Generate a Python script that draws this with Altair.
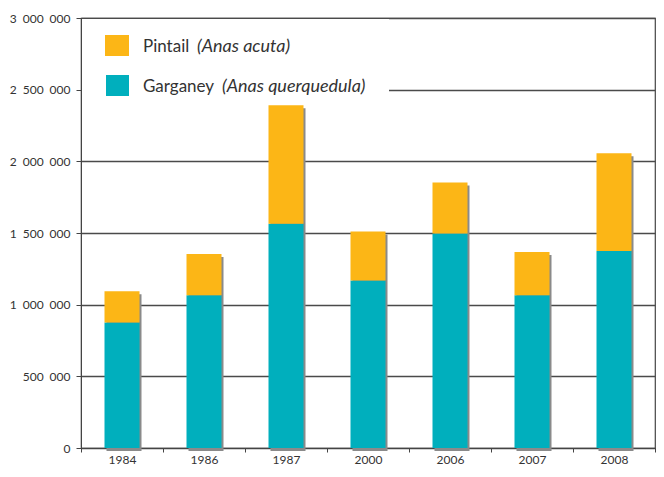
import altair as alt
import pandas as pd

years = ["1984", "1986", "1987", "2000", "2006", "2007", "2008"]
garganey = [875000, 1066000, 1565000, 1169000, 1497000, 1066000, 1374000]
pintail_total = [1093000, 1353000, 2392000, 1510000, 1852000, 1367000, 2057000]
pintail = [t - g for t, g in zip(pintail_total, garganey)]
y_ticks = [0, 500000, 1000000, 1500000, 2000000, 2500000, 3000000]

ORANGE = "#FCB616"
TEAL = "#00AFBD"
FONT = "Lato"
SEP = "\u2002"

rows = []
for y, g, p in zip(years, garganey, pintail):
    rows.append({"year": y, "species": "Garganey", "value": g, "ord": 0})
    rows.append({"year": y, "species": "Pintail", "value": p, "ord": 1})
df = pd.DataFrame(rows)
tot = pd.DataFrame({"year": years, "total": [g + p for g, p in zip(garganey, pintail)]})

xenc = alt.X("year:N", sort=years, title=None,
             scale=alt.Scale(paddingInner=0, paddingOuter=0),
             axis=alt.Axis(labelAngle=0, tickBand="extent", tickSize=4,
                           labelFont=FONT, labelFontSize=12, labelColor="#333",
                           domainColor="#444", tickColor="#444", labelPadding=2))
yscale = alt.Scale(domain=[0, 3000000], nice=False)

shadow = alt.Chart(tot).mark_bar(size=35, color="#8a8a8a", xOffset=2, yOffset=3, y2Offset=0).encode(
    x=xenc,
    y=alt.Y("total:Q", scale=yscale, title=None,
            axis=alt.Axis(values=y_ticks, tickSize=5, labelFont=FONT, labelFontSize=12,
                          labelColor="#333", labelPadding=6,
                          labelExpr="replace(format(datum.value, ','), /,/g, '" + SEP + "')",
                          grid=True, gridColor="#4a4a4a", gridWidth=1.4,
                          domainColor="#444", tickColor="#444")),
)

bars = alt.Chart(df).mark_bar(size=35).encode(
    x=xenc,
    y=alt.Y("value:Q", stack="zero", scale=yscale),
    color=alt.Color("species:N", scale=alt.Scale(domain=["Pintail", "Garganey"], range=[ORANGE, TEAL]),
                    legend=None),
    order=alt.Order("ord:Q"),
)

anchor = pd.DataFrame({"k": [0]})
box = alt.Chart(anchor).mark_rect(color="white").encode(
    x=alt.value(1), x2=alt.value(308), y=alt.value(1), y2=alt.value(80))

sq1 = alt.Chart(anchor).mark_rect(color=ORANGE).encode(
    x=alt.value(24), x2=alt.value(48), y=alt.value(17), y2=alt.value(38))
sq2 = alt.Chart(anchor).mark_rect(color=TEAL).encode(
    x=alt.value(25), x2=alt.value(48), y=alt.value(57), y2=alt.value(78))

def txt(s, x, y, italic=False):
    return alt.Chart(anchor).mark_text(
        text=s, align="left", baseline="alphabetic", font=FONT,
        fontSize=18 if italic else 17,
        fontStyle="italic" if italic else "normal", color="#333").encode(
        x=alt.value(x), y=alt.value(y))

chart = alt.layer(
    shadow, bars, box, sq1, sq2,
    txt("Pintail", 62, 34), txt("(Anas acuta)", 116, 34, True),
    txt("Garganey", 62, 74), txt("(Anas querquedula)", 141, 74, True),
).properties(
    width=574, height=430,
    autosize=alt.AutoSizeParams(type="none"),
    padding={"left": 73, "top": 10, "right": 1, "bottom": 21},
).configure_view(stroke="#444", strokeWidth=1.2)

chart.save("out.html", embed_options={"renderer": "svg", "actions": False})
